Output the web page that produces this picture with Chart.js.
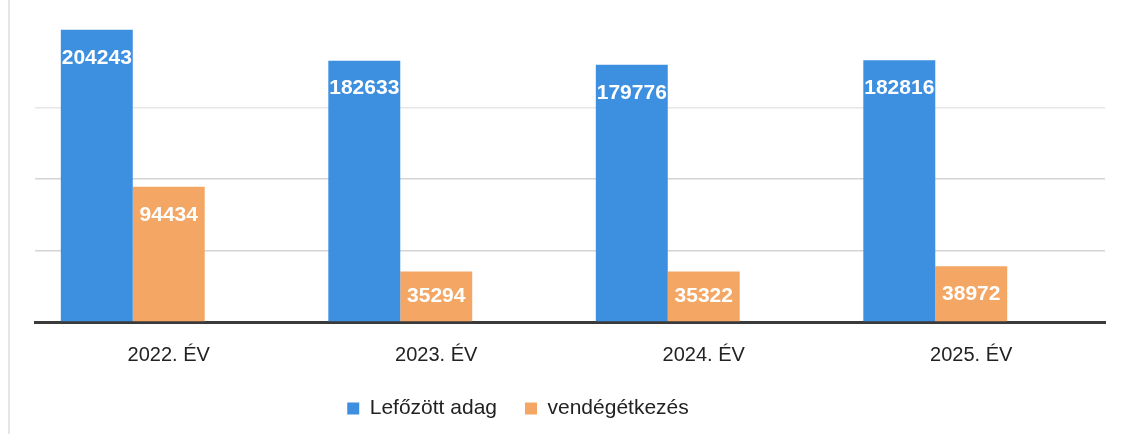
<!DOCTYPE html>
<html>
<head>
<meta charset="utf-8">
<script src="https://cdn.jsdelivr.net/npm/chart.js@4.4.1/dist/chart.umd.min.js"></script>
<style>
  html, body { margin: 0; padding: 0; background: #ffffff; }
  #wrap { position: relative; width: 1122px; height: 434px; background: #ffffff; }
  #edge { position: absolute; left: 8px; top: 0; width: 2px; height: 434px; background: #e6e6e6; }
  canvas { position: absolute; left: 0; top: 0; }
</style>
</head>
<body>
<div id="wrap">
  <div id="edge"></div>
  <canvas id="c" width="1122" height="434"></canvas>
</div>
<script>
// ---- data ----
const categories = ['2022. ÉV', '2023. ÉV', '2024. ÉV', '2025. ÉV'];
const lefozottAdag = [204243, 182633, 179776, 182816];
const vendegetkezes = [94434, 35294, 35322, 38972];
const emptySeries = [null, null, null, null];   // empty third series (keeps the slot)
const seriesNames = ['Lefőzött adag', 'vendégétkezés', ''];
const gridValues = [0, 50000, 100000, 150000];

const BLUE = '#3d8fe0';
const ORANGE = '#f4a764';

const barLabels = {
  id: 'barLabels',
  afterDatasetsDraw(chart) {
    const ctx = chart.ctx;
    ctx.save();
    ctx.font = 'bold 21px "Liberation Sans", Arial, sans-serif';
    ctx.fillStyle = '#ffffff';
    ctx.textAlign = 'center';
    ctx.textBaseline = 'middle';
    [0, 1].forEach(di => {
      const meta = chart.getDatasetMeta(di);
      const values = chart.data.datasets[di].data;
      meta.data.forEach((el, i) => {
        if (values[i] == null) return;
        const h = el.base - el.y;
        const off = Math.min(28, h / 2);
        ctx.fillText(String(values[i]), el.x, el.y + off);
      });
    });
    ctx.restore();
  }
};

const legendShift = {
  id: 'legendShift',
  afterLayout(chart) {
    const lg = chart.legend;
    if (!lg) return;
    const dx = -52, dy = -5;
    lg.left += dx; lg.right += dx;
    lg.top += dy; lg.bottom += dy;
  }
};

new Chart(document.getElementById('c'), {
  type: 'bar',
  data: {
    labels: categories,
    datasets: [
      { label: seriesNames[0], data: lefozottAdag, backgroundColor: BLUE, borderWidth: 0 },
      { label: seriesNames[1], data: vendegetkezes, backgroundColor: ORANGE, borderWidth: 0 },
      { label: seriesNames[2], data: emptySeries, backgroundColor: 'rgba(0,0,0,0)', borderWidth: 0 }
    ]
  },
  options: {
    responsive: false,
    animation: false,
    devicePixelRatio: 1,
    layout: { padding: { left: 35, right: 17, top: 0, bottom: 0 } },
    datasets: { bar: { categoryPercentage: 0.807, barPercentage: 1.0 } },
    scales: {
      x: {
        z: 1,
        grid: { display: false, drawTicks: false },
        border: { display: true, color: '#3a3a3a', width: 3 },
        ticks: {
          color: '#222222',
          padding: 21,
          font: { family: '"Liberation Sans", Arial, sans-serif', size: 20 }
        },
        afterFit(scale) { scale.height = 53; }
      },
      y: {
        min: 0,
        max: 225000,
        ticks: { display: false },
        afterBuildTicks(axis) { axis.ticks = gridValues.map(v => ({ value: v })); },
        border: { display: false },
        grid: {
          drawTicks: false,
          lineWidth: 1.5,
          color: (c) => {
            const v = c.tick ? c.tick.value : 0;
            if (v >= 150000) return '#e6e6e6';
            return '#d4d4d4';
          }
        }
      }
    },
    plugins: {
      tooltip: { enabled: false },
      legend: {
        position: 'bottom',
        labels: {
          filter: (item) => item.datasetIndex < 2,
          boxWidth: 12,
          boxHeight: 12,
          padding: 28,
          color: '#222222',
          font: { family: '"Liberation Sans", Arial, sans-serif', size: 21 }
        }
      }
    }
  },
  plugins: [barLabels, legendShift]
});
</script>
</body>
</html>
